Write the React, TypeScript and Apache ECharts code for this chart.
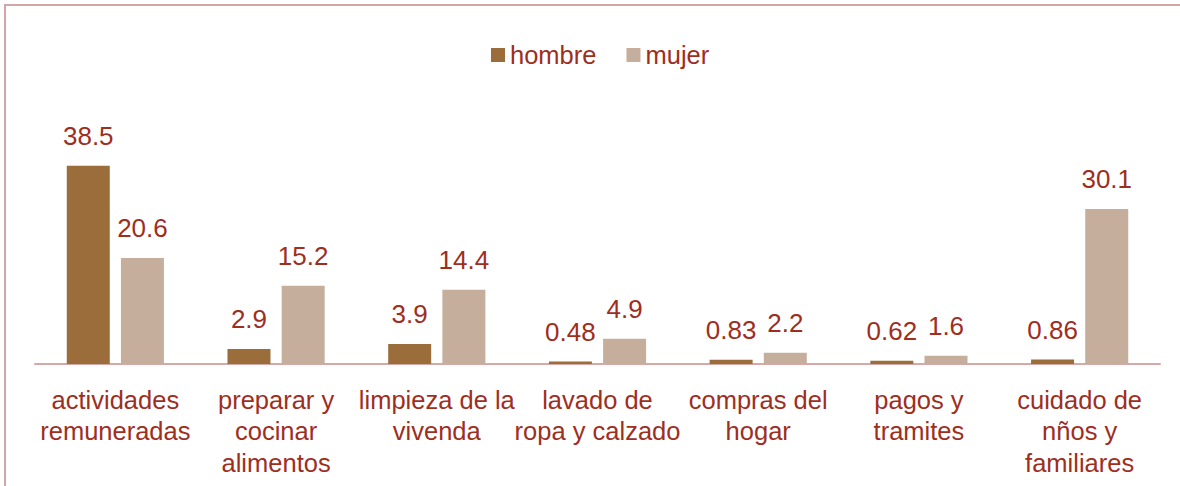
import React, { useEffect, useRef } from "react";
import * as echarts from "echarts";

const categories = [
  "actividades\nremuneradas",
  "preparar y\ncocinar\nalimentos",
  "limpieza de la\nvivenda",
  "lavado de\nropa y calzado",
  "compras del\nhogar",
  "pagos y\ntramites",
  "cuidado de\nnños y\nfamiliares",
];
const hombre = [38.5, 2.9, 3.9, 0.48, 0.83, 0.62, 0.86];
const mujer = [20.6, 15.2, 14.4, 4.9, 2.2, 1.6, 30.1];

const TEXT = "#9E2E1E";
const FONT = "Liberation Sans";

export default function App() {
  const ref = useRef<HTMLDivElement>(null);
  useEffect(() => {
    if (!ref.current) return;
    const chart = echarts.init(ref.current, undefined, { renderer: "svg" });
    const label = {
      show: true,
      position: "top" as const,
      distance: 17,
      color: TEXT,
      fontFamily: FONT,
      fontSize: 26,
    };
    chart.setOption({
      animation: false,
      backgroundColor: "#ffffff",
      graphic: [
        {
          type: "rect",
          shape: { x: 5, y: 5, width: 1200, height: 600 },
          style: { fill: "none", stroke: "#d3a6a6", lineWidth: 2 },
          silent: true,
        },
      ],
      legend: {
        top: 37,
        left: 486,
        itemWidth: 14,
        itemHeight: 14,
        itemGap: 30,
        icon: "rect",
        textStyle: { color: TEXT, fontFamily: FONT, fontSize: 25.5, padding: [0, 0, 0, 0] },
        data: ["hombre", "mujer"],
      },
      grid: { left: 35, right: 20, top: 158, bottom: 122 },
      xAxis: {
        type: "category",
        data: categories,
        axisLine: { show: true, lineStyle: { color: "#d6a8a8", width: 2 } },
        axisTick: { show: false },
        axisLabel: {
          interval: 0,
          margin: 20,
          color: TEXT,
          fontFamily: FONT,
          fontSize: 25.5,
          lineHeight: 31.5,
        },
      },
      yAxis: {
        type: "value",
        min: 0,
        max: 40,
        show: false,
        splitLine: { show: false },
      },
      series: [
        {
          name: "hombre",
          type: "bar",
          data: hombre,
          barWidth: 43,
          barGap: "26%",
          itemStyle: { color: "#9A6D3B" },
          label,
        },
        {
          name: "mujer",
          type: "bar",
          data: mujer,
          barWidth: 43,
          itemStyle: { color: "#C6AE9C" },
          label,
        },
      ],
    });
    return () => chart.dispose();
  }, []);
  return (
    <div
      ref={ref}
      style={{ position: "absolute", left: 0, top: 0, width: 1180, height: 486 }}
    />
  );
}
